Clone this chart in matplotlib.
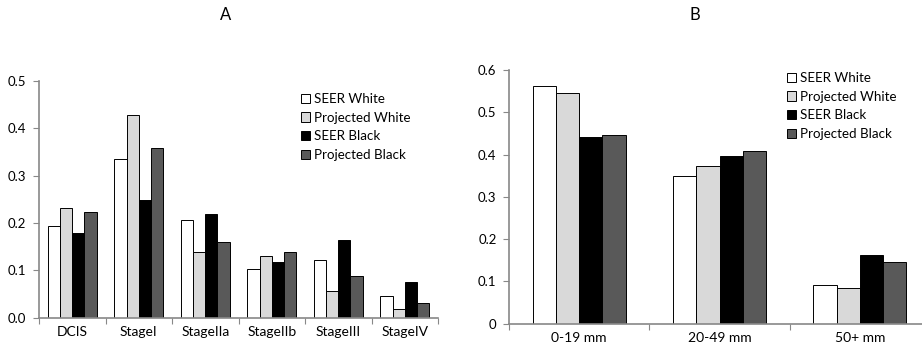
import matplotlib
matplotlib.use("Agg")
import matplotlib.pyplot as plt
import numpy as np

plt.rcParams['font.family'] = ['Lato', 'DejaVu Sans']

series = ['SEER White', 'Projected White', 'SEER Black', 'Projected Black']
colors = ['#ffffff', '#d9d9d9', '#000000', '#595959']

# panel A - stage
stages = ['DCIS', 'StageI', 'StageIIa', 'StageIIb', 'StageIII', 'StageIV']
stage_seer_white = [0.193, 0.334, 0.206, 0.102, 0.121, 0.045]
stage_proj_white = [0.231, 0.428, 0.138, 0.130, 0.056, 0.018]
stage_seer_black = [0.179, 0.248, 0.219, 0.117, 0.163, 0.075]
stage_proj_black = [0.222, 0.359, 0.160, 0.139, 0.089, 0.030]

# panel B - tumor size
sizes = ['0-19 mm', '20-49 mm', '50+ mm']
size_seer_white = [0.561, 0.349, 0.091]
size_proj_white = [0.545, 0.373, 0.084]
size_seer_black = [0.442, 0.397, 0.162]
size_proj_black = [0.446, 0.409, 0.147]

W, H = 922, 353
fig = plt.figure(figsize=(W/100, H/100), dpi=100)

def panel(rect, cats, data, width, yticks, ylabels, leg_xy):
    ax = fig.add_axes(rect)
    x = np.arange(len(cats))
    for i, vals in enumerate(data):
        off = (i - 1.5) * width
        ax.bar(x + off, vals, width, color=colors[i], edgecolor='black',
               linewidth=0.7, label=series[i])
    ax.set_xlim(-0.5, len(cats) - 0.5)
    ax.set_ylim(0, yticks[-1])
    ax.set_xticks(np.arange(len(cats) + 1) - 0.5)
    ax.set_xticklabels([])
    ax.set_xticks(x, minor=True)
    ax.set_xticklabels(cats, minor=True, fontsize=10)
    ax.tick_params(axis='x', which='minor', length=0, pad=6)
    ax.tick_params(axis='x', which='major', length=4, color='#888888', direction='out')
    ax.set_yticks(yticks)
    ax.set_yticklabels(ylabels, fontsize=9.5)
    ax.tick_params(axis='y', length=4, color='#888888', pad=5)
    for s in ['top', 'right']:
        ax.spines[s].set_visible(False)
    for s in ['left', 'bottom']:
        ax.spines[s].set_color('#888888')
        ax.spines[s].set_linewidth(1.2)
    ax.legend(loc='upper left', bbox_to_anchor=leg_xy, bbox_transform=fig.transFigure,
              frameon=False, fontsize=9.6, handlelength=0.7, handleheight=0.7,
              handletextpad=0.25, labelspacing=0.5, borderpad=0, borderaxespad=0)
    return ax

panel([39/W, 1 - 317.7/H, 399/W, 237/H], stages,
      [stage_seer_white, stage_proj_white, stage_seer_black, stage_proj_black],
      0.184, [0, 0.1, 0.2, 0.3, 0.4, 0.5],
      ['0.0', '0.1', '0.2', '0.3', '0.4', '0.5'], (301/W, 1 - 93/H))

panel([509/W, 1 - 323.7/H, 421/W, 253.7/H], sizes,
      [size_seer_white, size_proj_white, size_seer_black, size_proj_black],
      0.166, [0, 0.1, 0.2, 0.3, 0.4, 0.5, 0.6],
      ['0', '0.1', '0.2', '0.3', '0.4', '0.5', '0.6'], (787/W, 1 - 72/H))

fig.text(226/W, 1 - 15/H, 'A', ha='center', va='center', fontsize=12)
fig.text(695/W, 1 - 15/H, 'B', ha='center', va='center', fontsize=12)

fig.savefig('out.png', dpi=100)
